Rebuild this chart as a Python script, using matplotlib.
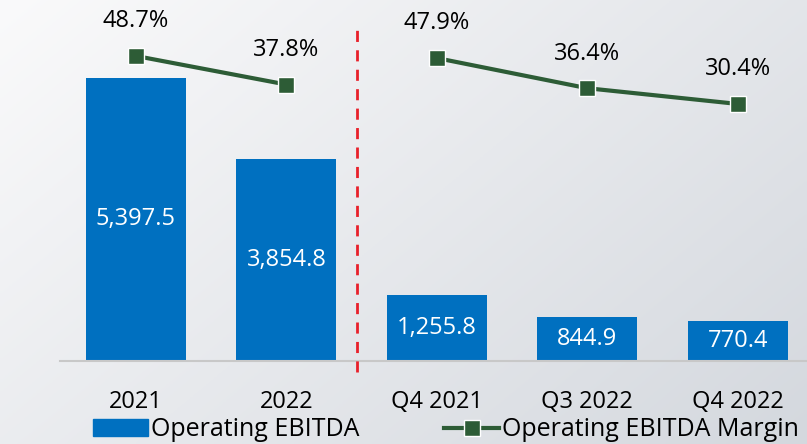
import numpy as np
import matplotlib.pyplot as plt
from matplotlib.patches import Patch
from matplotlib.lines import Line2D

plt.rcParams['font.family'] = ['Open Sans', 'DejaVu Sans']

categories = ['2021', '2022', 'Q4 2021', 'Q3 2022', 'Q4 2022']
ebitda = [5397.5, 3854.8, 1255.8, 844.9, 770.4]
margin = [48.7, 37.8, 47.9, 36.4, 30.4]
ebitda_labels = ['5,397.5', '3,854.8', '1,255.8', '844.9', '770.4']

blue = '#0070c0'
green = '#2d5c36'

fig = plt.figure(figsize=(8.07, 4.44), dpi=100)

# background gradient
bg = fig.add_axes([0, 0, 1, 1], zorder=-10)
xx, yy = np.meshgrid(np.linspace(0, 1, 200), np.linspace(0, 1, 200))
g = 0.6 * xx + 0.4 * yy
top = np.array([250, 250, 251]) / 255
bot = np.array([212, 216, 222]) / 255
img = top[None, None, :] * (1 - g[..., None]) + bot[None, None, :] * g[..., None]
bg.imshow(img, aspect='auto', extent=[0, 1, 0, 1], origin='upper')
bg.axis('off')

ax = fig.add_axes([60 / 807, 83 / 444, 747 / 807, 361 / 444])
ax.patch.set_alpha(0)
x = np.arange(len(categories))
ax.bar(x, ebitda, width=0.665, color=blue, zorder=2)
for xi, v, lab in zip(x, ebitda, ebitda_labels):
    ax.text(xi, v / 2, lab, ha='center', va='center', color='white', fontsize=17)

ax.set_xlim(-0.505, 4.46)
ax.set_ylim(0, 6876)
ax.set_yticks([])
ax.set_xticks(x)
ax.set_xticklabels(categories, fontsize=17)
ax.tick_params(axis='x', length=0, pad=21)
for s in ['top', 'right', 'left']:
    ax.spines[s].set_visible(False)
ax.spines['bottom'].set_color('#c8c8c8')
ax.spines['bottom'].set_linewidth(1.5)

# separator between yearly and quarterly figures
ax.plot([1.47, 1.47], [-0.03, 0.92], transform=ax.get_xaxis_transform(),
        color='#e8202a', lw=2, dashes=(4, 3), clip_on=False, zorder=3)

ax2 = ax.twinx()
ax2.set_ylim(-67.7, 70.07)
ax2.axis('off')
# line is broken between years and quarters
for sl in (slice(0, 2), slice(2, 5)):
    ax2.plot(x[sl], margin[sl], color=green, lw=3, marker='s', markersize=12,
             markeredgecolor='white', markeredgewidth=1, zorder=4)
for xi, m in zip(x, margin):
    ax2.annotate(f'{m}%', (xi, m), xytext=(0, 25), textcoords='offset points',
                 ha='center', va='center', fontsize=17, color='black')

handles = [Patch(color=blue, label='Operating EBITDA'),
           Line2D([], [], color=green, lw=3, marker='s', markersize=12,
                  markeredgecolor='white', label='Operating EBITDA Margin')]
fig.legend(handles=handles, loc='lower center', bbox_to_anchor=(446 / 807, -0.019),
           ncol=2, frameon=False, fontsize=18, handlelength=2.2, handleheight=0.7,
           handletextpad=0.12, columnspacing=3.4, borderaxespad=0)

fig.savefig('out.png', dpi=100)
